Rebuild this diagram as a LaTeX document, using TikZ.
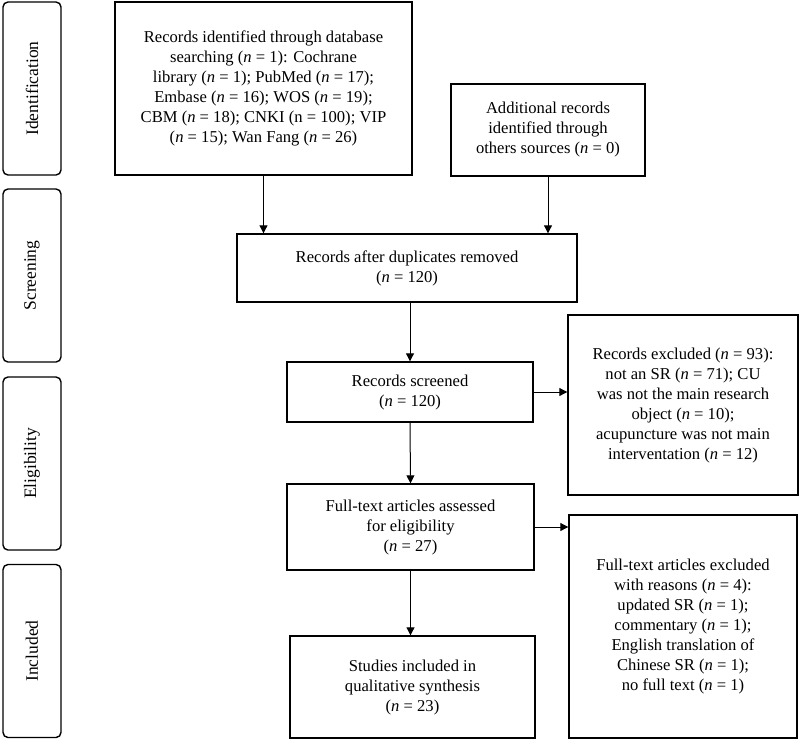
\documentclass[tikz,border=0pt]{standalone}
\usepackage{fontspec}
\setmainfont{Liberation Serif}
\usetikzlibrary{arrows.meta}
\newcommand{\nv}{\textit{n}}

\begin{document}
\begin{tikzpicture}[x=1pt,y=-1pt,
   box/.style={draw,line width=1.4pt,align=center,inner sep=0pt,
     font=\fontsize{16.6}{20}\selectfont},
   phase/.style={draw,line width=1.4pt,rounded corners=5pt,rotate=90,inner sep=0pt,
     minimum width=173pt,minimum height=58pt,font=\fontsize{17.5}{20}\selectfont},
   flow/.style={line width=1pt,-{Triangle[length=8pt,width=8pt]}}]
   \useasboundingbox (0,0) rectangle (800,740);

   \node[phase] (Ident) at (32,88.5)  {Identification};
   \node[phase] (Scr)   at (32,275.5) {Screening};
   \node[phase] (Elig)  at (32,463.5) {Eligibility};
   \node[phase] (Incl)  at (32,651)   {Included};

   \node[box,minimum width=297pt,minimum height=173pt] (Db) at (263.5,88.5)
     {Records identified through database\\ searching (\nv{} = 1): Cochrane\\
      library (\nv{} = 1); PubMed (\nv{} = 17);\\ Embase (\nv{} = 16); WOS (\nv{} = 19);\\
      CBM (\nv{} = 18); CNKI (n = 100); VIP\\ (\nv{} = 15); Wan Fang (\nv{} = 26)};
   \node[box,minimum width=194pt,minimum height=92pt] (Add) at (548,130)
     {Additional records\\ identified through\\ others sources (\nv{} = 0)};
   \node[box,minimum width=340pt,minimum height=68pt] (Dup) at (407,268)
     {Records after duplicates removed\\ (\nv{} = 120)};
   \node[box,minimum width=246pt,minimum height=60pt] (Screen) at (410,392)
     {Records screened\\ (\nv{} = 120)};
   \node[box,minimum width=230pt,minimum height=180pt] (ExclA) at (683,405)
     {Records excluded (\nv{} = 93):\\ not an SR (\nv{} = 71); CU\\ was not the main research\\
      object (\nv{} = 10);\\ acupuncture was not main\\ interventation (\nv{} = 12)};
   \node[box,minimum width=247pt,minimum height=86pt] (Full) at (410.5,527)
     {Full-text articles assessed\\ for eligibility\\ (\nv{} = 27)};
   \node[box,minimum width=245pt,minimum height=102pt] (Study) at (412.5,687)
     {Studies included in\\ qualitative synthesis\\ (\nv{} = 23)};
   \node[box,minimum width=228pt,minimum height=223pt] (ExclB) at (683,626.5)
     {Full-text articles excluded\\ with reasons (\nv{} = 4):\\ updated SR (\nv{} = 1);\\
      commentary (\nv{} = 1);\\ English translation of\\ Chinese SR (\nv{} = 1);\\
      no full text (\nv{} = 1)};

   \draw[flow] (Db.south) -- (Db.south |- Dup.north);
   \draw[flow] (Add.south) -- (Add.south |- Dup.north);
   \draw[flow] (Dup.south -| Screen.north) -- (Screen.north);
   \draw[flow] (Screen.east) -- (Screen.east -| ExclA.west);
   \draw[flow] (Screen.south) -- (Full.north);
   \draw[flow] (Full.east) -- (Full.east -| ExclB.west);
   \draw[flow] (Full.south) -- (Full.south |- Study.north);
\end{tikzpicture}
\end{document}
